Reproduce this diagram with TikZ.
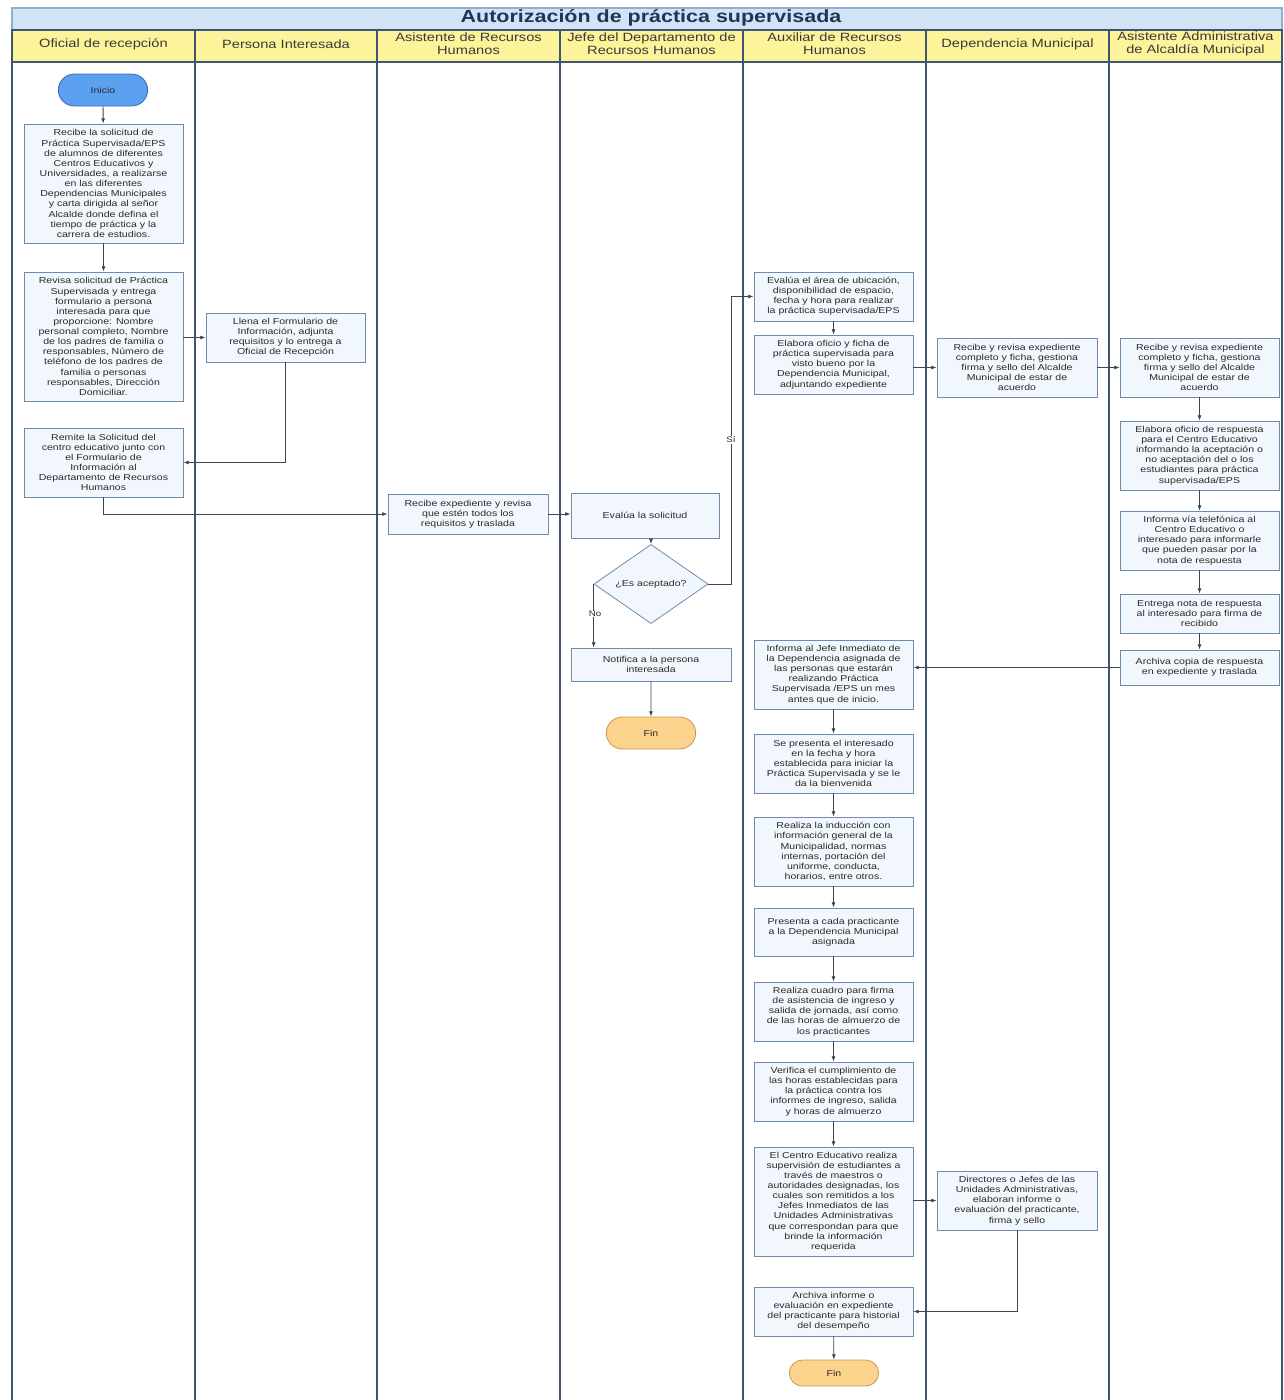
\documentclass[tikz,border=0pt]{standalone}
\usepackage{fontspec}
\setmainfont[FakeStretch=1.22]{Liberation Sans}
\usetikzlibrary{shapes.geometric,shapes.misc,arrows.meta,shadows}
\definecolor{lanec}{HTML}{3F5573}
\definecolor{titlefill}{HTML}{D3E3F6}
\definecolor{titleborder}{HTML}{93ADCC}
\definecolor{titletext}{HTML}{1E3658}
\definecolor{headfill}{HTML}{FDF39B}
\definecolor{headtext}{HTML}{3A3A3A}
\definecolor{boxfill}{HTML}{F1F7FD}
\definecolor{boxborder}{HTML}{6E8CAD}
\definecolor{boxtext}{HTML}{2B2B2B}
\definecolor{arrc}{HTML}{3A4656}
\definecolor{inifill}{HTML}{5BA1EF}
\definecolor{iniborder}{HTML}{3A6DAE}
\definecolor{finfill}{HTML}{FCD38C}
\definecolor{finborder}{HTML}{C49B50}
\tikzset{
  sz/.style 2 args={minimum width=#1*0.75pt, minimum height=#2*0.75pt},
  proc/.style={draw=boxborder, fill=boxfill, line width=0.6pt, align=center,
    inner sep=1pt, text=boxtext, font=\fontsize{6.5}{7.6}\selectfont,
    drop shadow={shadow xshift=0.8pt, shadow yshift=-0.8pt, opacity=0.2}},
  term/.style={rounded rectangle, line width=0.6pt, align=center, inner sep=1pt,
    text=boxtext, font=\fontsize{6.5}{7.6}\selectfont},
  ini/.style={term, draw=iniborder, fill=inifill},
  fin/.style={term, draw=finborder, fill=finfill},
  decis/.style={diamond, draw=boxborder, fill=boxfill, line width=0.6pt, inner sep=0pt,
    align=center, text=boxtext, font=\fontsize{6.5}{7.6}\selectfont},
  lane/.style={draw=lanec, line width=1pt},
  head/.style={align=center, text=headtext, font=\fontsize{9}{9.8}\selectfont},
  arr/.style={draw=arrc, line width=0.6pt, -{Latex[length=4pt,width=3pt]}},
  lbl/.style={text=boxtext, font=\fontsize{6}{7}\selectfont, fill=white, inner sep=0.5pt}
}
\begin{document}
\begin{tikzpicture}[x=0.75pt,y=-0.75pt]
\useasboundingbox (0,0) rectangle (1284,1400);
% title and headers
\fill[white] (0,0) rectangle (1284,1400);
\draw[fill=titlefill, draw=titleborder, line width=0.8pt] (12,8) rectangle (1282,30);
\node[text=titletext, font=\bfseries\fontsize{13.2}{14}\selectfont] (title) at (651,18) {Autorización de práctica supervisada};
\fill[headfill] (12,30) rectangle (1282,62);
\draw[lane] (12,30) rectangle (1282,1402);
\draw[lane] (12,62) -- (1282,62);
\foreach \xx in {195,377,560,743,926,1109} {\draw[lane] (\xx,30) -- (\xx,1402);}
\node[head] (h1) at (103.5,44) {Oficial de recepción};
\node[head] (h2) at (286,44) {Persona Interesada};
\node[head] (h3) at (468.5,43.5) {Asistente de Recursos\\Humanos};
\node[head] (h4) at (651.5,43.5) {Jefe del Departamento de\\Recursos Humanos};
\node[head] (h5) at (834.5,43.5) {Auxiliar de Recursos\\Humanos};
\node[head] (h6) at (1017.5,44) {Dependencia Municipal};
\node[head] (h7) at (1195.5,43.5) {Asistente Administrativa\\de Alcaldía Municipal};

% nodes
\node[ini, sz={92}{32}] (ini) at (103,90) {Inicio};
\node[proc, sz={159}{119}] (A) at (103.5,183.5) {Recibe la solicitud de\\Práctica Supervisada/EPS\\de alumnos de diferentes\\Centros Educativos y\\Universidades, a realizarse\\en las diferentes\\Dependencias Municipales\\y carta dirigida al señor\\Alcalde donde defina el\\tiempo de práctica y la\\carrera de estudios.};
\node[proc, sz={159}{129}] (B) at (103.5,336.5) {Revisa solicitud de Práctica\\Supervisada y entrega\\formulario a persona\\interesada para que\\proporcione: Nombre\\personal completo, Nombre\\de los padres de familia o\\responsables, Número de\\teléfono de los padres de\\familia o personas\\responsables, Dirección\\Domiciliar.};
\node[proc, sz={159}{49}] (C) at (285.5,337.5) {Llena el Formulario de\\Información, adjunta\\requisitos y lo entrega a\\Oficial de Recepción};
\node[proc, sz={159}{69}] (D) at (103.5,462.5) {Remite la Solicitud del\\centro educativo junto con\\el Formulario de\\Información al\\Departamento de Recursos\\Humanos};
\node[proc, sz={160}{40}] (E) at (468,514) {Recibe expediente y revisa\\que estén todos los\\requisitos y traslada};
\node[proc, sz={148}{45}] (F) at (645,515.5) {Evalúa la solicitud};
\node[decis, sz={114}{48}] (dia) at (651,584) {¿Es aceptado?};
\node[proc, sz={160}{33}] (G) at (651,664.5) {Notifica a la persona\\interesada};
\node[fin, sz={92}{32}] (fin1) at (651,733) {Fin};
\node[proc, sz={159}{49}] (H) at (833.5,296.5) {Evalúa el área de ubicación,\\disponibilidad de espacio,\\fecha y hora para realizar\\la práctica supervisada/EPS};
\node[proc, sz={159}{59}] (I) at (833.5,364.5) {Elabora oficio y ficha de\\práctica supervisada para\\visto bueno por la\\Dependencia Municipal,\\adjuntando expediente};
\node[proc, sz={160}{59}] (J) at (1017,367.5) {Recibe y revisa expediente\\completo y ficha, gestiona\\firma y sello del Alcalde\\Municipal de estar de\\acuerdo};
\node[proc, sz={159}{59}] (K) at (1199.5,367.5) {Recibe y revisa expediente\\completo y ficha, gestiona\\firma y sello del Alcalde\\Municipal de estar de\\acuerdo};
\node[proc, sz={159}{69}] (L) at (1199.5,455.5) {Elabora oficio de respuesta\\para el Centro Educativo\\informando la aceptación o\\no aceptación del o los\\estudiantes para práctica\\supervisada/EPS};
\node[proc, sz={159}{59}] (M) at (1199.5,540.5) {Informa vía telefónica al\\Centro Educativo o\\interesado para informarle\\que pueden pasar por la\\nota de respuesta};
\node[proc, sz={159}{39}] (N) at (1199.5,613.5) {Entrega nota de respuesta\\al interesado para firma de\\recibido};
\node[proc, sz={159}{35}] (O) at (1199.5,667.5) {Archiva copia de respuesta\\en expediente y traslada};
\node[proc, sz={159}{69}] (P) at (833.5,674.5) {Informa al Jefe Inmediato de\\la Dependencia asignada de\\las personas que estarán\\realizando Práctica\\Supervisada /EPS un mes\\antes que de inicio.};
\node[proc, sz={159}{59}] (Q) at (833.5,763.5) {Se presenta el interesado\\en la fecha y hora\\establecida para iniciar la\\Práctica Supervisada y se le\\da la bienvenida};
\node[proc, sz={159}{69}] (R) at (833.5,851.5) {Realiza la inducción con\\información general de la\\Municipalidad, normas\\internas, portación del\\uniforme, conducta,\\horarios, entre otros.};
\node[proc, sz={159}{48}] (S) at (833.5,932) {Presenta a cada practicante\\a la Dependencia Municipal\\asignada};
\node[proc, sz={159}{59}] (T) at (833.5,1011.5) {Realiza cuadro para firma\\de asistencia de ingreso y\\salida de jornada, así como\\de las horas de almuerzo de\\los practicantes};
\node[proc, sz={159}{59}] (U) at (833.5,1091.5) {Verifica el cumplimiento de\\las horas establecidas para\\la práctica contra los\\informes de ingreso, salida\\y horas de almuerzo};
\node[proc, sz={159}{109}] (V) at (833.5,1201.5) {El Centro Educativo realiza\\supervisión de estudiantes a\\través de maestros o\\autoridades designadas, los\\cuales son remitidos a los\\Jefes Inmediatos de las\\Unidades Administrativas\\que correspondan para que\\brinde la información\\requerida};
\node[proc, sz={160}{59}] (W) at (1017,1200.5) {Directores o Jefes de las\\Unidades Administrativas,\\elaboran informe o\\evaluación del practicante,\\firma y sello};
\node[proc, sz={159}{49}] (X) at (833.5,1311.5) {Archiva informe o\\evaluación en expediente\\del practicante para historial\\del desempeño};
\node[fin, sz={92}{26}] (fin2) at (834,1373) {Fin};

% connectors
\draw[arr] (ini) -- (A);
\draw[arr] (A) -- (B);
\draw[arr] (B.east |- C.west) -- (C.west);
\draw[arr] (C.south) |- (D.east);
\draw[arr] (D.south) |- (E.west);
\draw[arr] (E.east) -- (E.east -| F.west);
\draw[arr] (F.south -| dia.north) -- (dia.north);
\coordinate (sj) at (731,584);
\draw[arr] (dia.east) -- (sj) |- (H.west);
\node[lbl] (si) at (731,440) {Sí};
\draw[arr] (dia.west) -- (dia.west |- G.north);
\node[lbl] (no) at (595,614) {No};
\draw[arr] (G) -- (fin1);
\draw[arr] (H) -- (I);
\draw[arr] (J.west -| I.east) -- (J.west);
\draw[arr] (J) -- (K);
\draw[arr] (K) -- (L);
\draw[arr] (L) -- (M);
\draw[arr] (M) -- (N);
\draw[arr] (N) -- (O);
\draw[arr] (O.west) -- (O.west -| P.east);
\draw[arr] (P) -- (Q);
\draw[arr] (Q) -- (R);
\draw[arr] (R) -- (S);
\draw[arr] (S) -- (T);
\draw[arr] (T) -- (U);
\draw[arr] (U) -- (V);
\draw[arr] (V.east |- W.west) -- (W.west);
\draw[arr] (W.south) |- (X.east);
\draw[arr] (X) -- (fin2);
\end{tikzpicture}
\end{document}
